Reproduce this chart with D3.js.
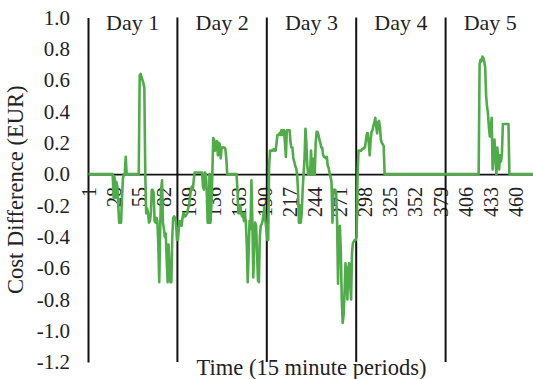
<!DOCTYPE html>
<html>
<head>
<meta charset="utf-8">
<script src="https://cdn.jsdelivr.net/npm/d3@7/dist/d3.min.js"></script>
<style>
  html, body { margin: 0; padding: 0; background: #fff; }
  svg { display: block; }
  text { font-family: "Liberation Serif", "Times New Roman", serif; fill: #222; }
</style>
</head>
<body>
<svg id="chart" width="533" height="379"></svg>
<script>
// ---- data (cost difference in EUR per 15-minute period) ----
const dayLabels = ["Day 1", "Day 2", "Day 3", "Day 4", "Day 5"];
const periodsPerDay = 96;

const day1 = [
  0,0,0,0,0,0,0,0,0,0,0,0,0,0,0,0,0,0,0,0,0,0,0,0,0,0,0,
  -0.15,-0.02,-0.15,-0.05,-0.08,-0.2,-0.31,-0.31,-0.31,-0.15,-0.03,0,0,0.11,0,
  0,0,0,0,0,0,0,0,0,0,0,0,0,
  0.63,0.64,0.62,0.6,0.58,0.55,0,-0.25,-0.22,-0.25,-0.31,-0.3,-0.25,-0.1,-0.1,-0.12,
  -0.3,-0.31,-0.28,-0.3,-0.45,-0.69,-0.35,-0.1,-0.04,-0.31,-0.35,-0.4,-0.38,-0.55,
  -0.69,-0.45,-0.6,-0.69,-0.69,-0.4,-0.28,-0.27,-0.28,-0.3,-0.42
];
const day2 = [
  -0.42,-0.35,-0.3,-0.3,-0.33,-0.28,-0.25,-0.27,-0.27,-0.26,-0.25,-0.22,-0.2,-0.15,-0.1,-0.08,-0.1,-0.04,
  0.01,0.01,0.01,0.01,0.01,0.01,0.01,0.01,0.01,
  -0.08,-0.1,0.01,0,-0.1,-0.31,-0.31,0,-0.31,-0.2,0,
  0.23,0.22,0.15,0.2,0.21,0.12,0.2,0.19,0.1,0.17,0.17,0.17,0.17,0.16,0.1,
  0,0,0,0,0,0,0,0,0,0,0,
  -0.1,-0.25,-0.25,-0.2,-0.25,-0.27,-0.25,-0.3,-0.25,-0.31,-0.45,-0.69,-0.5,-0.3,-0.35,-0.04,
  -0.3,-0.66,-0.45,-0.31,-0.33,-0.5,-0.68,-0.69,-0.4,-0.33,-0.32,-0.3,-0.25,-0.21,-0.3,-0.35
];
const day3 = [
  -0.42,-0.42,0.05,0.15,0.15,0.15,0.15,0.16,0.15,0.15,0.2,0.25,0.25,0.26,0.25,0.28,
  0.25,0.28,0.28,0.2,0.11,0.28,0.28,0.28,0.28,0.2,0.17,0.17,0.1,0.08,0.05,0.04,
  0,-0.1,-0.31,-0.2,-0.31,-0.25,-0.1,0,0.1,0.29,0.2,0.05,0,0,0,0.15,
  0,0,0.1,0,0.2,0.27,0.27,0.25,0.22,0.2,0.17,0.17,0.12,0.11,0.11,0.1,
  0.11,0.05,0.04,0,-0.02,-0.05,-0.31,-0.1,-0.1,-0.1,-0.12,-0.31,-0.7,-0.35,-0.33,-0.5,
  -0.8,-0.95,-0.9,-0.75,-0.57,-0.65,-0.8,-0.6,-0.57,-0.7,-0.8,-0.5,-0.44,-0.43,-0.42,-0.42
];
const day4 = [
  -0.4,0,0.15,0.15,0.15,0.15,0.16,0.16,0.17,0.17,0.22,0.26,0.26,0.2,0.12,0.22,
  0.27,0.28,0.31,0.33,0.36,0.3,0.26,0.33,0.34,0.3,0.22,0.2,0.19,0.18,
  0,0,0,0,0,0,0,0,0,0,0,0,0,0,0,0,0,0,0,0,0,0,0,0,0,0,0,0,0,0,0,0,0,0,0,0,0,
  0,0,0,0,0,0,0,0,0,0,0,0,0,0,0,0,0,0,0,0,0,0,0,0,0,0,0,0,0
];
const day5 = [
  0,0,0,0,0,0,0,0,0,0,0,0,0,0,0,0,0,0,0,0,0,0,0,0,0,0,0,0,0,0,0,0,0,0,0,0,
  0.7,0.73,0.72,0.75,0.74,0.72,0.68,0.5,0.43,0.39,0.3,0.24,0.3,0.36,0.03,0.15,
  0.22,0.1,0,0.17,0.1,0.03,0.12,0.08,0.13,0.32,0.32,0.32,0.32,0.32,0.32,0.32,
  0,0,0,0,0,0,0,0,0,0,0,0,0,0,0,0,0,0,0,0,0,0,0,0,0,0,0,0
];

const xTickValues = [1,28,55,82,109,136,163,190,217,244,271,298,325,352,379,406,433,460];
const yTickValues = [-1.2,-1.0,-0.8,-0.6,-0.4,-0.2,0.0,0.2,0.4,0.6,0.8,1.0];
const yTickLabels = ["-1.2","-1.0","-0.8","-0.6","-0.4","-0.2","0.0","0.2","0.4","0.6","0.8","1.0"];

const xTitle = "Time (15 minute periods)";
const yTitle = "Cost Difference (EUR)";

// ---- build series ----
const values = [].concat(day1, day2, day3, day4, day5);
const periods = values.map((v, k) => k + 1);
const series = values.map((v, k) => ({ p: periods[k], v: v }));

// ---- layout ----
const svg = d3.select("#chart");
const mLeft = 88, mRight = 535, mTop = 17.5, mBottom = 362;

const x = d3.scaleBand().domain(periods).range([mLeft, mRight]).padding(0);
const xc = p => x(p) + x.bandwidth() / 2;
const y = d3.scaleLinear().domain([-1.2, 1.0]).range([mBottom, mTop]);

// y axis
const yAxis = d3.axisLeft(y)
  .tickValues(yTickValues)
  .tickFormat((d, k) => yTickLabels[k])
  .tickSize(0).tickPadding(18);
const gy = svg.append("g").attr("transform", `translate(${mLeft},0)`).call(yAxis);
gy.select(".domain").attr("stroke", "#111").attr("stroke-width", 2);
gy.selectAll("text").style("font-size", "21px").attr("fill", "#222")
  .style("font-family", '"Liberation Serif", "Times New Roman", serif');

// x axis at zero
const xAxis = d3.axisBottom(x)
  .tickValues(xTickValues)
  .tickSize(0).tickSizeOuter(0);
const gx = svg.append("g").attr("transform", `translate(0,${y(0)})`).call(xAxis);
gx.select(".domain").attr("stroke", "#111").attr("stroke-width", 1.6);
gx.selectAll("text")
  .attr("transform", "rotate(-90)")
  .attr("x", -13).attr("y", 0).attr("dy", "0.35em")
  .attr("text-anchor", "end")
  .style("font-size", "20px").attr("fill", "#222")
  .style("font-family", '"Liberation Serif", "Times New Roman", serif');

// day separators
svg.append("g").selectAll("line")
  .data(dayLabels.slice(1))
  .join("line")
  .attr("x1", (d, k) => x((k + 1) * periodsPerDay + 1))
  .attr("x2", (d, k) => x((k + 1) * periodsPerDay + 1))
  .attr("y1", mTop).attr("y2", mBottom)
  .attr("stroke", "#111").attr("stroke-width", 2);

// day labels
svg.append("g").selectAll("text")
  .data(dayLabels)
  .join("text")
  .attr("x", (d, k) => (x(k * periodsPerDay + 1) + x((k + 1) * periodsPerDay) + x.bandwidth()) / 2)
  .attr("y", 30)
  .attr("text-anchor", "middle")
  .style("font-size", "22px")
  .text(d => d);

// series line
const line = d3.line().x(d => xc(d.p)).y(d => y(d.v));
svg.append("path")
  .datum(series)
  .attr("d", line)
  .attr("fill", "none")
  .attr("stroke", "#4fac48")
  .attr("stroke-width", 2.6)
  .attr("stroke-linejoin", "round");

// axis titles
svg.append("text")
  .attr("x", (mLeft + mRight) / 2).attr("y", 375)
  .attr("text-anchor", "middle")
  .style("font-size", "22.5px")
  .text(xTitle);

svg.append("text")
  .attr("transform", `translate(23,${(mTop + mBottom) / 2}) rotate(-90)`)
  .attr("text-anchor", "middle")
  .style("font-size", "22.5px")
  .text(yTitle);
</script>
</body>
</html>
